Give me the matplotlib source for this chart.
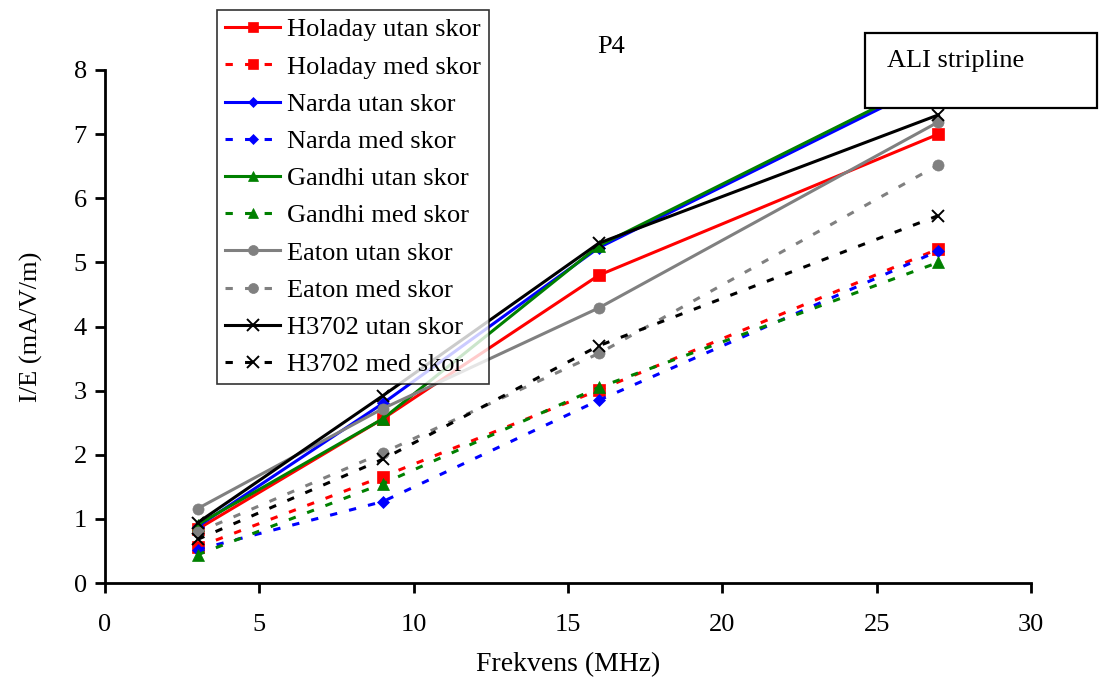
import matplotlib

matplotlib.use("Agg")
import matplotlib.pyplot as plt
from matplotlib.patches import Rectangle

plt.rcParams["font.family"] = ["Liberation Serif", "DejaVu Serif"]

freq = [3, 9, 16, 27]

holaday_utan = [0.84, 2.56, 4.80, 7.00]
holaday_med = [0.56, 1.66, 3.01, 5.21]
narda_utan = [0.88, 2.80, 5.23, 7.85]
narda_med = [0.52, 1.27, 2.85, 5.18]
gandhi_utan = [0.91, 2.56, 5.26, 7.90]
gandhi_med = [0.44, 1.55, 3.05, 5.00]
eaton_utan = [1.16, 2.72, 4.29, 7.19]
eaton_med = [0.79, 2.03, 3.58, 6.52]
h3702_utan = [0.94, 2.92, 5.30, 7.30]
h3702_med = [0.68, 1.93, 3.70, 5.73]

series = [
    ("Holaday utan skor", holaday_utan, "#ff0000", "s", "-"),
    ("Holaday med skor", holaday_med, "#ff0000", "s", "--"),
    ("Narda utan skor", narda_utan, "#0000ff", "D", "-"),
    ("Narda med skor", narda_med, "#0000ff", "D", "--"),
    ("Gandhi utan skor", gandhi_utan, "#008000", "^", "-"),
    ("Gandhi med skor", gandhi_med, "#008000", "^", "--"),
    ("Eaton utan skor", eaton_utan, "#808080", "o", "-"),
    ("Eaton med skor", eaton_med, "#808080", "o", "--"),
    ("H3702 utan skor", h3702_utan, "#000000", "x", "-"),
    ("H3702 med skor", h3702_med, "#000000", "x", "--"),
]

W, H = 1099, 682
fig = plt.figure(figsize=(W / 100, H / 100), dpi=100)
ax = fig.add_axes([105 / W, 1 - 583 / H, (1031 - 105) / W, (583 - 70) / H])

msize = {"s": 8, "D": 6, "^": 8, "o": 8, "x": 9}
for label, vals, color, marker, ls in series:
    line, = ax.plot(
        freq,
        vals,
        color=color,
        marker=marker,
        markersize=msize[marker],
        markeredgewidth=1.4 if marker == "x" else 0.5,
        linewidth=2.2,
        label=label,
    )
    if ls == "--":
        line.set_dashes((2.4, 4.0))

ax.set_xlim(0, 30)
ax.set_ylim(0, 8)
ax.set_xticks(range(0, 31, 5))
ax.set_yticks(range(0, 9))
ax.spines["top"].set_visible(False)
ax.spines["right"].set_visible(False)
ax.spines["left"].set_linewidth(2)
ax.spines["bottom"].set_linewidth(2)
ax.tick_params(width=2, length=7, labelsize=19)
ax.tick_params(axis="x", pad=15)
ax.tick_params(axis="y", pad=6)
ax.set_xlabel("Frekvens (MHz)", fontsize=20, labelpad=12)
ax.set_ylabel("I/E (mA/V/m)", fontsize=19, labelpad=22)

fig.text(611 / W, 1 - 47 / H, "P4", fontsize=19, ha="center", va="center")

handles, labels = ax.get_legend_handles_labels()
leg = fig.legend(
    handles,
    labels,
    loc="upper left",
    bbox_to_anchor=(217 / W, 1 - 10 / H),
    fontsize=19,
    frameon=True,
    fancybox=False,
    edgecolor="black",
    handlelength=2.1,
    handletextpad=0.25,
    labelspacing=0.52,
    borderpad=0.3,
    borderaxespad=0,
    markerscale=0.9,
)
leg.get_frame().set_linewidth(1.2)

box = Rectangle(
    (865 / W, 1 - 108 / H),
    (1097 - 865) / W,
    (108 - 33) / H,
    transform=fig.transFigure,
    facecolor="white",
    edgecolor="black",
    linewidth=1.6,
    zorder=5,
)
fig.patches.append(box)
fig.text(887 / W, 1 - 61 / H, "ALI stripline", fontsize=19, va="center", zorder=6)

fig.savefig("out.png", dpi=100)
